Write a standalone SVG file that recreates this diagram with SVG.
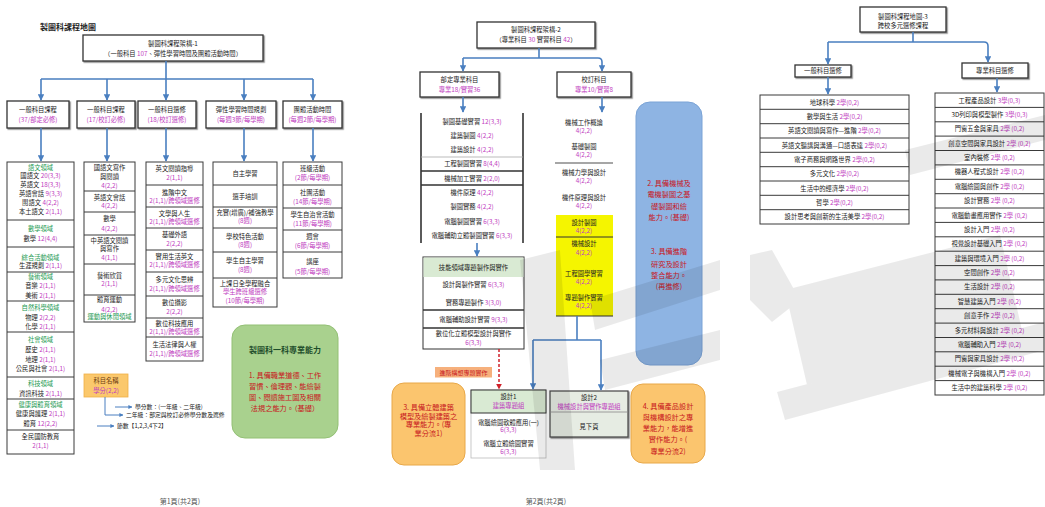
<svg xmlns="http://www.w3.org/2000/svg" width="1045" height="507" viewBox="0 0 1045 507">
<defs>
<marker id="ab" viewBox="0 0 10 10" refX="9" refY="5" markerWidth="4" markerHeight="4" orient="auto"><path d="M0,0L10,5L0,10z" fill="#4a7fc0"/></marker>
<marker id="ar" viewBox="0 0 10 10" refX="9" refY="5" markerWidth="4" markerHeight="4" orient="auto"><path d="M0,0L10,5L0,10z" fill="#d0202a"/></marker>
<filter id="sh" x="-10%" y="-10%" width="130%" height="140%"><feDropShadow dx="1.2" dy="1.2" stdDeviation="0.6" flood-color="#000" flood-opacity="0.45"/></filter>
</defs>
<style>
text{font-family:"Noto Sans CJK TC","Noto Sans CJK SC",sans-serif;font-size:6.3px;fill:#222;text-anchor:middle}
.m{fill:#c03cc0}
.g{fill:#1d9a52}
.r{fill:#c8161d;font-size:7.2px}
.cell{fill:#fff;stroke:#3a3a3a;stroke-width:1}
.hd{fill:#fff;stroke:#333;stroke-width:1.3}
.sep{stroke:#3a3a3a;stroke-width:1;fill:none}
.thk{stroke:#333;stroke-width:1.6;fill:none}
.thin{stroke:#aaa;stroke-width:0.8;fill:none}
.con{fill:none;stroke:#4a7fc0;stroke-width:1.6}
.cap{font-size:7px;fill:#555}
</style>
<rect width="1045" height="507" fill="#fff"/>

<!-- ===== PAGE 1 ===== -->
<g id="title1"><text x="40" y="30" style="font-size:8px;font-weight:bold;text-anchor:start">製圖科課程地圖</text></g>

<g id="n-top1"><rect class="hd" x="83" y="35" width="180" height="26" filter="url(#sh)"/>
<text x="173" y="46">製圖科課程架構-1</text>
<text x="173" y="56">（一般科目 <tspan class="m">107</tspan>、彈性學習時間及團體活動時間）</text></g>

<g id="n-b1"><rect class="hd" x="7" y="101" width="62" height="27" filter="url(#sh)"/><text x="38" y="112">一般科目課程</text><text x="38" y="122" class="m">(37/部定必修)</text></g>
<g id="n-b2"><rect class="hd" x="77" y="101" width="58" height="27" filter="url(#sh)"/><text x="106" y="112">一般科目課程</text><text x="106" y="122" class="m">(17/校訂必修)</text></g>
<g id="n-b3"><rect class="hd" x="138" y="101" width="58" height="27" filter="url(#sh)"/><text x="167" y="112">一般科目選修</text><text x="167" y="122" class="m">(18/校訂選修)</text></g>
<g id="n-b4"><rect class="hd" x="206" y="101" width="70" height="27" filter="url(#sh)"/><text x="241" y="112">彈性學習時間規劃</text><text x="241" y="122" class="m">(每週3節/每學期)</text></g>
<g id="n-b5"><rect class="hd" x="283" y="101" width="59" height="27" filter="url(#sh)"/><text x="312.5" y="112">團體活動時間</text><text x="312.5" y="122" class="m">(每週2節/每學期)</text></g>

<g id="n-col1"><rect class="cell" x="7" y="162" width="67" height="292"/>
<path class="sep" d="M7,220H74M7,247H74M7,272H74M7,301H74M7,332H74M7,377H74M7,399H74M7,430H74"/>
<text x="40.5" y="169.5" class="g">語文領域</text>
<text x="40.5" y="177.5">國語文 <tspan class="m">20(3,3)</tspan></text>
<text x="40.5" y="186.5">英語文 <tspan class="m">18(3,3)</tspan></text>
<text x="40.5" y="195.5">英語會話 <tspan class="m">9(3,3)</tspan></text>
<text x="40.5" y="204.5">閩語文 <tspan class="m">4(2,2)</tspan></text>
<text x="40.5" y="213.5">本土語文 <tspan class="m">2(1,1)</tspan></text>
<text x="40.5" y="230.5" class="g">數學領域</text>
<text x="40.5" y="240.5">數學 <tspan class="m">12(4,4)</tspan></text>
<text x="40.5" y="259.5" class="g">綜合活動領域</text>
<text x="40.5" y="267.5">生涯規劃 <tspan class="m">2(1,1)</tspan></text>
<text x="40.5" y="278.5" class="g">藝術領域</text>
<text x="40.5" y="287.5">音樂 <tspan class="m">2(1,1)</tspan></text>
<text x="40.5" y="297.5">美術 <tspan class="m">2(1,1)</tspan></text>
<text x="40.5" y="309.5" class="g">自然科學領域</text>
<text x="40.5" y="319.5">物理 <tspan class="m">2(2,2)</tspan></text>
<text x="40.5" y="328.5">化學 <tspan class="m">2(1,1)</tspan></text>
<text x="40.5" y="341.5" class="g">社會領域</text>
<text x="40.5" y="351.5">歷史 <tspan class="m">2(1,1)</tspan></text>
<text x="40.5" y="361.5">地理 <tspan class="m">2(1,1)</tspan></text>
<text x="40.5" y="370.5">公民與社會 <tspan class="m">2(1,1)</tspan></text>
<text x="40.5" y="385.5" class="g">科技領域</text>
<text x="40.5" y="395.5">資訊科技 <tspan class="m">2(1,1)</tspan></text>
<text x="40.5" y="406.5" class="g">健康與體育領域</text>
<text x="40.5" y="415.5">健康與護理 <tspan class="m">2(1,1)</tspan></text>
<text x="40.5" y="425.5">體育 <tspan class="m">12(2,2)</tspan></text>
<text x="40.5" y="438.5">全民國防教育</text>
<text x="40.5" y="447.5" class="m">2(1,1)</text></g>

<g id="n-col2"><rect class="cell" x="84" y="162" width="51" height="160"/>
<path class="sep" d="M84,191H135M84,212H135M84,235H135M84,264H135M84,295H135"/>
<text x="109.5" y="169.5">國語文寫作</text><text x="109.5" y="179">與閱讀</text><text x="109.5" y="187.5" class="m">4(2,2)</text>
<text x="109.5" y="199.5">英語文會話</text><text x="109.5" y="207.5" class="m">4(2,2)</text>
<text x="109.5" y="220.5">數學</text><text x="109.5" y="230.5" class="m">4(2,2)</text>
<text x="109.5" y="242.5">中英語文閱讀</text><text x="109.5" y="250.5">與寫作</text><text x="109.5" y="259.5" class="m">4(1,1)</text>
<text x="109.5" y="277.5">藝術欣賞</text><text x="109.5" y="285.5" class="m">2(1,1)</text>
<text x="109.5" y="301.5">體育運動</text><text x="109.5" y="311.5" class="m">4(2,2)</text><text x="109.5" y="319" class="g">運動與休閒領域</text></g>

<g id="n-col3"><rect class="cell" x="146" y="162" width="57" height="199"/>
<path class="sep" d="M146,185H203M146,207H203M146,228H203M146,250H203M146,272H203M146,296H203M146,318H203M146,337H203"/>
<text x="174.5" y="170.5">英文閱讀指導</text><text x="174.5" y="180" class="m">2(1,1)</text>
<text x="174.5" y="194.5">進階中文</text><text x="174.5" y="202.5" class="m">2(1,1)/跨領域選修</text>
<text x="174.5" y="215.5">文學與人生</text><text x="174.5" y="224" class="m">2(1,1)/跨領域選修</text>
<text x="174.5" y="237">基礎外語</text><text x="174.5" y="245.5" class="m">2(2,2)</text>
<text x="174.5" y="258.5">實用生活英文</text><text x="174.5" y="267" class="m">2(1,1)/跨領域選修</text>
<text x="174.5" y="282">多元文化思辨</text><text x="174.5" y="291" class="m">2(1,1)/跨領域選修</text>
<text x="174.5" y="305">數位攝影</text><text x="174.5" y="314" class="m">2(2,2)</text>
<text x="174.5" y="326">數位科技應用</text><text x="174.5" y="334" class="m">2(1,1)/跨領域選修</text>
<text x="174.5" y="347">生活法律與人權</text><text x="174.5" y="356" class="m">2(1,1)/跨領域選修</text></g>

<g id="n-col4"><rect class="cell" x="213" y="162" width="64" height="145"/>
<path class="sep" d="M213,185H277M213,207H277M213,228H277M213,252H277M213,278H277"/>
<text x="245" y="175.5">自主學習</text>
<text x="245" y="198.5">選手培訓</text>
<text x="245" y="215">充實(增廣)/補強教學</text><text x="245" y="223" class="m">(8週)</text>
<text x="245" y="239">學校特色活動</text><text x="245" y="247" class="m">(8週)</text>
<text x="245" y="263">學生自主學習</text><text x="245" y="272" class="m">(8週)</text>
<text x="245" y="286">上課日全學程融合</text><text x="245" y="294" class="m">學生跨班級選修</text><text x="245" y="302.5" class="m">(10節/每學期)</text></g>

<g id="n-col5"><rect class="cell" x="283" y="162" width="59" height="116"/>
<path class="sep" d="M283,185H342M283,208H342M283,230H342M283,252H342"/>
<text x="312.5" y="170.5">班級活動</text><text x="312.5" y="180" class="m">(2節/每學期)</text>
<text x="312.5" y="195">社團活動</text><text x="312.5" y="204" class="m">(14節/每學期)</text>
<text x="312.5" y="217">學生自治會活動</text><text x="312.5" y="225.5" class="m">(11節/每學期)</text>
<text x="312.5" y="239">週會</text><text x="312.5" y="247.5" class="m">(6節/每學期)</text>
<text x="312.5" y="264">講座</text><text x="312.5" y="273.5" class="m">(5節/每學期)</text></g>

<g id="n-legend"><rect x="84" y="374" width="44" height="23" fill="#fbc86c" stroke="#f0b048" stroke-width="0.8"/>
<text x="106" y="383" style="fill:#6b3a10">科目名稱</text><text x="106" y="392.5" class="m">學分(2,2)</text>
<path class="con" d="M105,397V415" style="stroke-width:1"/>
<path class="con" d="M115,407H132" style="stroke-width:1" marker-end="url(#ab)"/>
<path class="con" d="M105,415H123" style="stroke-width:1" marker-end="url(#ab)"/>
<path class="con" d="M97,426H114" style="stroke-width:1" marker-end="url(#ab)"/>
<text x="135" y="409" style="text-anchor:start;font-size:5.8px">學分數：(一年級、二年級)</text>
<text x="126" y="417" style="text-anchor:start;font-size:5.8px">二年級：部定與校訂必修學分數及選修</text>
<text x="117" y="428" style="text-anchor:start;font-size:5.8px">節數【1,2,3,4下2】</text></g>

<g id="n-goal1"><rect x="232" y="325" width="106" height="113" rx="13" fill="#a9d18e" stroke="#93c075" stroke-width="1"/>
<text x="285" y="353" style="font-size:8px;fill:#1e4d2b;font-weight:bold">製圖科一科專業能力</text>
<text x="285" y="378" class="r">1. 具備職業道德、工作</text>
<text x="285" y="389" class="r">習慣、倫理觀、能繪製</text>
<text x="285" y="399.5" class="r">圖、閱讀施工圖及相關</text>
<text x="285" y="410.5" class="r">法規之能力。（基礎）</text></g>

<g id="cap1"><text x="180" y="504" class="cap">第1頁(共2頁)</text></g>

<!-- ===== PAGE 2 ===== -->
<g id="n-top2"><rect class="hd" x="477" y="22" width="118" height="26" filter="url(#sh)"/>
<text x="536" y="31.5">製圖科課程架構-2</text>
<text x="536" y="41.5">（專業科目 <tspan class="m">30</tspan> 實習科目 <tspan class="m">42</tspan>）</text></g>

<g id="n-p2l"><rect class="hd" x="420" y="72" width="79" height="25" filter="url(#sh)"/><text x="459.5" y="82">部定專業科目</text><text x="459.5" y="92" class="m">專業18/實習36</text></g>
<g id="n-p2r"><rect class="hd" x="557" y="72" width="74" height="25" filter="url(#sh)"/><text x="594" y="82">校訂科目</text><text x="594" y="92" class="m">專業10/實習8</text></g>

<g id="n-list2l"><rect x="421" y="113" width="102" height="130" fill="#fff"/>
<path class="thk" d="M421,113V243M523,113V243"/>
<path class="thin" d="M421,157H523"/>
<path class="thk" d="M421,171H523M421,185H523"/>
<text x="472" y="123.5">製圖基礎實習 <tspan class="m">12(3,3)</tspan></text>
<text x="472" y="137.5">建築製圖 <tspan class="m">4(2,2)</tspan></text>
<text x="472" y="151.5">建築設計 <tspan class="m">4(2,2)</tspan></text>
<text x="472" y="166">工程製圖實習 <tspan class="m">8(4,4)</tspan></text>
<text x="472" y="180.5">機械加工實習 <tspan class="m">2(2,0)</tspan></text>
<text x="472" y="194.5">機件原理 <tspan class="m">4(2,2)</tspan></text>
<text x="472" y="209">製圖實務 <tspan class="m">4(2,2)</tspan></text>
<text x="472" y="223.5">電腦製圖實習 <tspan class="m">6(3,3)</tspan></text>
<text x="472" y="237.5">電腦輔助立體製圖實習 <tspan class="m">6(3,3)</tspan></text></g>

<g id="n-proj"><rect x="423" y="257" width="101" height="92" fill="#fff" stroke="#333" stroke-width="1"/>
<rect x="423.5" y="257.5" width="100" height="19.5" fill="#d9ead3"/>
<path class="thk" d="M423,310H524M423,328H524"/>
<text x="473.5" y="269.5">技能領域專題製作與實作</text>
<text x="473.5" y="286.5">設計與製作實習 <tspan class="m">6(3,3)</tspan></text>
<text x="473.5" y="304.5">實務專題製作 <tspan class="m">3(3,0)</tspan></text>
<text x="473.5" y="321.5">電腦輔助設計實習 <tspan class="m">9(3,3)</tspan></text>
<text x="473.5" y="336">數位化立體模型設計與實作</text>
<text x="473.5" y="345" class="m">6(3,3)</text></g>

<g id="n-lbl"><rect x="435" y="367" width="57" height="10.5" fill="#f6b07c"/><text x="463.5" y="374.5" style="fill:#c8161d;font-size:6px">進階構想專題實作</text></g>

<g id="n-d1"><rect x="471" y="390" width="75" height="68" fill="#fff" stroke="#bbb" stroke-width="0.8"/>
<rect x="471" y="390" width="75" height="23" fill="#d9ead3" stroke="#333" stroke-width="1"/>
<text x="508.5" y="399">設計1</text><text x="508.5" y="408" class="m">建築專題組</text>
<text x="508.5" y="424.5">電腦繪圖軟體應用(一)</text><text x="508.5" y="432" class="m">6(3,3)</text>
<text x="508.5" y="445.5">電腦立體繪圖實習</text><text x="508.5" y="453.5" class="m">6(3,3)</text></g>

<g id="n-d2"><rect x="550" y="391" width="78" height="46" fill="#e6ece3" stroke="#444" stroke-width="1.2" filter="url(#sh)"/>
<path d="M550,412H628" stroke="#888" stroke-width="0.8"/>
<text x="589" y="399.5">設計2</text><text x="589" y="409" class="m">機械設計與實作專題組</text>
<text x="589" y="429">見下頁</text></g>

<g id="n-goal3"><rect x="392" y="383" width="73" height="82" rx="12" fill="#fbc56e" stroke="#e8a849" stroke-width="1"/>
<text x="428.5" y="409.5" class="r">3. 具備立體建築</text>
<text x="428.5" y="418.5" class="r">模型及繪製建築之</text>
<text x="428.5" y="427" class="r">專業能力。(專</text>
<text x="428.5" y="436" class="r">業分流1)</text></g>

<g id="n-goal4"><rect x="631" y="384" width="74" height="79" rx="12" fill="#fbc56e" stroke="#e8a849" stroke-width="1"/>
<text x="668" y="408.5" class="r">4. 具備產品設計</text>
<text x="668" y="419.5" class="r">與機構設計之專</text>
<text x="668" y="430.5" class="r">業能力，能增進</text>
<text x="668" y="441.5" class="r">實作能力。(</text>
<text x="668" y="454" class="r">專業分流2)</text></g>

<g id="n-goal2"><rect x="636" y="102" width="66" height="263" rx="14" fill="#8eb4e3" stroke="#7aa3d6" stroke-width="1"/>
<text x="669" y="185.5" class="r">2. 具備機械及</text>
<text x="669" y="196.5" class="r">電機製圖之基</text>
<text x="669" y="208.5" class="r">礎製圖和繪</text>
<text x="669" y="219.5" class="r">能力。(基礎)</text>
<text x="669" y="253.5" class="r">3. 具備進階</text>
<text x="669" y="266.5" class="r">研究及設計</text>
<text x="669" y="277.5" class="r">整合能力。</text>
<text x="669" y="288.5" class="r">(再進修)</text></g>

<g id="n-list2r"><rect x="555" y="113" width="58" height="102" fill="#fff"/>
<rect x="556" y="215" width="57" height="101" fill="#f5f500"/>
<path d="M555,163H613" stroke="#888" stroke-width="1.4"/>
<path d="M556,237H613" stroke="#333" stroke-width="1"/>
<path d="M556,316H613" stroke="#333" stroke-width="1.2"/>
<text x="584" y="125">機械工作概論</text><text x="584" y="133" class="m">4(2,2)</text>
<text x="584" y="148.5">基礎製圖</text><text x="584" y="157" class="m">4(2,2)</text>
<text x="584" y="174.5">機械力學與設計</text><text x="584" y="182.5" class="m">4(2,2)</text>
<text x="584" y="199.5">機件原理與設計</text><text x="584" y="207.5" class="m">4(2,2)</text>
<text x="584" y="224.5">設計製圖</text><text x="584" y="232.5" class="m">4(2,2)</text>
<text x="584" y="246">機械設計</text><text x="584" y="255" class="m">4(2,2)</text>
<text x="584" y="275.5">工程圖學實習</text><text x="584" y="284" class="m">4(2,2)</text>
<text x="584" y="299.5">專題製作實習</text><text x="584" y="307.5" class="m">4(2,2)</text></g>

<g id="cap2"><text x="546" y="504" class="cap">第2頁(共2頁)</text></g>

<!-- ===== PAGE 3 ===== -->
<g id="n-top3"><rect class="hd" x="860" y="7" width="86" height="25" filter="url(#sh)"/>
<text x="903" y="19">製圖科課程地圖-3</text><text x="903" y="28">跨校多元選修課程</text></g>
<g id="n-p3l"><rect class="hd" x="795" y="65" width="56" height="12" filter="url(#sh)"/><text x="823" y="73.3">一般科目選修</text></g>
<g id="n-p3r"><rect class="hd" x="962" y="63" width="66" height="15" filter="url(#sh)"/><text x="995" y="72.8">專業科目選修</text></g>

<g id="n-list3l"><rect class="cell" x="760" y="95" width="149" height="129"/>
<path class="sep" d="M760,109.3H909M760,123.7H909M760,138H909M760,152.3H909M760,166.7H909M760,181H909M760,195.3H909M760,209.7H909"/>
<text x="834.5" y="104.5">地球科學 <tspan class="m">2學(0,2)</tspan></text>
<text x="834.5" y="118.8">數學與生活 <tspan class="m">2學(0,2)</tspan></text>
<text x="834.5" y="133.2">英語文閱讀與寫作—進階 <tspan class="m">2學(0,2)</tspan></text>
<text x="834.5" y="147.5">英語文聽講與溝通—口語表達 <tspan class="m">2學(0,2)</tspan></text>
<text x="834.5" y="161.8">電子商務與網路世界 <tspan class="m">2學(0,2)</tspan></text>
<text x="834.5" y="176.2">多元文化 <tspan class="m">2學(0,2)</tspan></text>
<text x="834.5" y="190.5">生活中的經濟學 <tspan class="m">2學(0,2)</tspan></text>
<text x="834.5" y="204.8">哲學 <tspan class="m">2學(0,2)</tspan></text>
<text x="834.5" y="219.2">設計思考與創新的生活美學 <tspan class="m">2學(0,2)</tspan></text></g>

<g id="n-list3r"><rect class="cell" x="935" y="93" width="109" height="302"/>
<path class="sep" d="M935,107.4H1044M935,121.8H1044M935,136.1H1044M935,150.5H1044M935,164.9H1044M935,179.3H1044M935,193.7H1044M935,208H1044M935,222.4H1044M935,236.8H1044M935,251.2H1044M935,265.6H1044M935,279.9H1044M935,294.3H1044M935,308.7H1044M935,323.1H1044M935,337.5H1044M935,351.8H1044M935,366.2H1044M935,380.6H1044"/>
<text x="989.5" y="102.5">工程產品設計 <tspan class="m">3學(0,3)</tspan></text>
<text x="989.5" y="116.9">3D列印與模型製作 <tspan class="m">3學(0,3)</tspan></text>
<text x="989.5" y="131.3">門窗五金與家具 <tspan class="m">2學 (0,2)</tspan></text>
<text x="989.5" y="145.6">創意空間與家具設計 <tspan class="m">2學 (0,2)</tspan></text>
<text x="989.5" y="160">室內裝修 <tspan class="m">2學 (0,2)</tspan></text>
<text x="989.5" y="174.4">機器人程式設計 <tspan class="m">2學 (0,2)</tspan></text>
<text x="989.5" y="188.8">電腦繪圖與創作 <tspan class="m">2學 (0,2)</tspan></text>
<text x="989.5" y="203.2">設計實務 <tspan class="m">2學 (0,2)</tspan></text>
<text x="989.5" y="217.5">電腦動畫應用實作 <tspan class="m">2學 (0,2)</tspan></text>
<text x="989.5" y="231.9">設計入門 <tspan class="m">2學 (0,2)</tspan></text>
<text x="989.5" y="246.3">視覺設計基礎入門 <tspan class="m">2學 (0,2)</tspan></text>
<text x="989.5" y="260.7">建築與環境入門 <tspan class="m">2學 (0,2)</tspan></text>
<text x="989.5" y="275.1">空間創作 <tspan class="m">2學 (0,2)</tspan></text>
<text x="989.5" y="289.4">生活設計 <tspan class="m">2學 (0,2)</tspan></text>
<text x="989.5" y="303.8">智慧建築入門 <tspan class="m">2學 (0,2)</tspan></text>
<text x="989.5" y="318.2">創意手作 <tspan class="m">2學 (0,2)</tspan></text>
<text x="989.5" y="332.6">多元材料與設計 <tspan class="m">2學 (0,2)</tspan></text>
<text x="989.5" y="347">電腦輔助入門 <tspan class="m">2學 (0,2)</tspan></text>
<text x="989.5" y="361.3">門窗與家具設計 <tspan class="m">2學 (0,2)</tspan></text>
<text x="989.5" y="375.7">機械電子與機構入門 <tspan class="m">2學 (0,2)</tspan></text>
<text x="989.5" y="390.1">生活中的建築科學 <tspan class="m">2學 (0,2)</tspan></text></g>

<!-- ===== CONNECTORS ===== -->
<g id="connectors">
<path class="con" d="M166,61V79M41,79H313"/>
<path class="con" d="M41,79V100" marker-end="url(#ab)"/>
<path class="con" d="M107,79V100" marker-end="url(#ab)"/>
<path class="con" d="M166,79V100" marker-end="url(#ab)"/>
<path class="con" d="M244,79V100" marker-end="url(#ab)"/>
<path class="con" d="M313,79V100" marker-end="url(#ab)"/>
<path class="con" d="M41,128V161" marker-end="url(#ab)"/>
<path class="con" d="M107,128V161" marker-end="url(#ab)"/>
<path class="con" d="M166,128V161" marker-end="url(#ab)"/>
<path class="con" d="M244,128V161" marker-end="url(#ab)"/>
<path class="con" d="M313,128V161" marker-end="url(#ab)"/>
<path class="con" d="M539,48V58M463,58H598Q602,58 602,62"/>
<path class="con" d="M463,58V71" marker-end="url(#ab)"/>
<path class="con" d="M602,62V71" marker-end="url(#ab)"/>
<path class="con" d="M463,97V112" marker-end="url(#ab)"/>
<path class="con" d="M602,97V112" marker-end="url(#ab)"/>
<path class="con" d="M477,243V256" marker-end="url(#ab)"/>
<path class="con" d="M577,316V340M533,340H601"/>
<path class="con" d="M533,340V389" marker-end="url(#ab)"/>
<path class="con" d="M601,340V390" marker-end="url(#ab)"/>
<path d="M499,349V389" fill="none" stroke="#d0202a" stroke-width="1.5" stroke-dasharray="3,2" marker-end="url(#ar)"/>
<path class="con" d="M913,32V42M828,42H984Q988,42 988,46"/>
<path class="con" d="M828,42V64" marker-end="url(#ab)"/>
<path class="con" d="M988,46V62" marker-end="url(#ab)"/>
<path class="con" d="M828,77V94" marker-end="url(#ab)"/>
<path class="con" d="M997,78V92" marker-end="url(#ab)"/>
</g>

<!-- watermark -->
<g id="watermark" fill="#000" opacity="0.08">
<polygon points="785,290 1000,235 1022,330 807,385"/>
<polygon points="777,392 1045,322 1045,350 785,420"/>
<polygon points="750,255 772,250 800,300 772,322 750,300"/>
<polygon points="905,150 1045,115 1045,140 910,175"/>
<polygon points="520,260 560,250 575,470 540,470"/>
<polygon points="590,300 720,260 720,290 595,330"/>
<polygon points="600,360 720,330 720,360 605,390"/>
</g>
</svg>
